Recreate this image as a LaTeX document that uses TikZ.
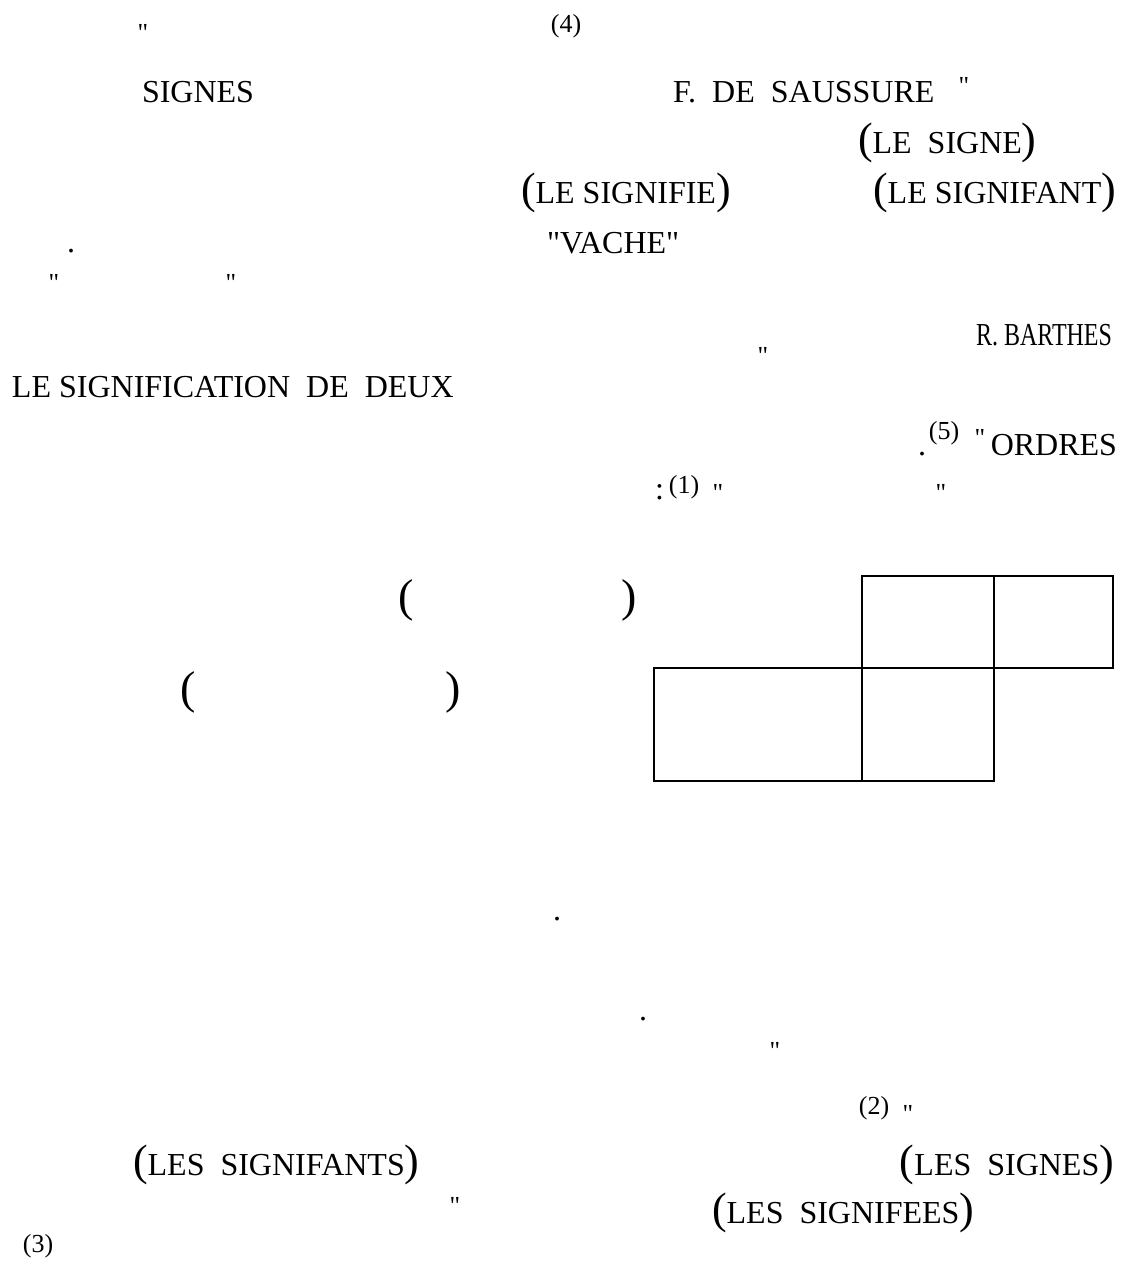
\documentclass[tikz,border=0pt]{standalone}
\usepackage{fontspec}
\setmainfont{Liberation Serif}[Ligatures=TeXOff]
\newcommand\plo{{\fontsize{44}{44}\selectfont(}}
\newcommand\plc{{\fontsize{44}{44}\selectfont)}}
\newcommand\dq{\char34\relax}
\begin{document}
\begin{tikzpicture}[x=1pt,y=-1pt,
  every node/.style={inner sep=0pt,outer sep=0pt},
  lat/.style={anchor=base west,font=\fontsize{32}{36}\selectfont},
  late/.style={anchor=base east,font=\fontsize{32}{36}\selectfont},
  num/.style={anchor=center,font=\fontsize{26}{28}\selectfont},
  qm/.style={anchor=base,font=\fontsize{26}{26}\selectfont},
  apar/.style={anchor=center,font=\fontsize{46}{46}\selectfont},
  cell/.style={draw,line width=2pt,minimum width=#1}]
\useasboundingbox (0,0) rectangle (1128,1270);
% row 1
\node[qm] (q1) at (143,41) {\dq};
\node[num] (n4) at (566,26) {(4)};
% Saussure
\node[lat] (signes) at (142,102) {SIGNES};
\node[lat] (saus) at (673,102) {F.~~DE~~SAUSSURE};
\node[qm] (q2) at (964,94) {\dq};
\node[lat] (lesigne) at (858,153) {\plo LE~~SIGNE\plc};
\node[lat] (signifie) at (521,203) {\plo LE SIGNIFIE\plc};
\node[late] (signifant) at (1116,203) {\plo LE SIGNIFANT\plc};
\node[lat] (vache) at (547,253) {\dq VACHE\dq};
\node[lat] (dot1) at (67,252) {.};
\node[qm] (q3) at (54,291) {\dq};
\node[qm] (q4) at (231,291) {\dq};
% Barthes
\node[late] (barthes) at (1112,345) {\scalebox{0.75}[1]{R.~BARTHES}};
\node[qm] (q5) at (763,364) {\dq};
\node[lat] (deux) at (12,397) {LE SIGNIFICATION~~DE~~DEUX};
\node[lat] (dot2) at (918,455) {.};
\node[num] (n5) at (944,433) {(5)};
\node[qm] (q6) at (980,446) {\dq};
\node[late] (ordres) at (1117,455) {ORDRES};
\node[lat] (colon) at (655,499) {:};
\node[num] (n1) at (684,487) {(1)};
\node[qm] (q7) at (718,501) {\dq};
\node[qm] (q8) at (941,501) {\dq};
% parentheses
\node[apar] (p1) at (406,600) {(};
\node[apar] (p2) at (629,600) {)};
\node[apar] (p3) at (188,692) {(};
\node[apar] (p4) at (453,692) {)};
% table
\node[cell=132pt,minimum height=92pt] (c1) at (928,622) {};
\node[cell=119pt,minimum height=92pt] (c2) at (1053.5,622) {};
\node[cell=208pt,minimum height=113pt] (c3) at (758,724.5) {};
\node[cell=132pt,minimum height=113pt] (c4) at (928,724.5) {};
% lower part
\node[lat] (dot3) at (553,920) {.};
\node[lat] (dot4) at (639,1020) {.};
\node[qm] (q9) at (775,1059) {\dq};
\node[num] (n2) at (874,1108) {(2)};
\node[qm] (q10) at (908,1122) {\dq};
\node[lat] (lessignifants) at (133,1175) {\plo LES~~SIGNIFANTS\plc};
\node[late] (lessignes) at (1114,1175) {\plo LES~~SIGNES\plc};
\node[qm] (q11) at (455,1214) {\dq};
\node[lat] (lessignifees) at (712,1223) {\plo LES~~SIGNIFEES\plc};
\node[num] (n3) at (38,1246) {(3)};
\end{tikzpicture}
\end{document}
